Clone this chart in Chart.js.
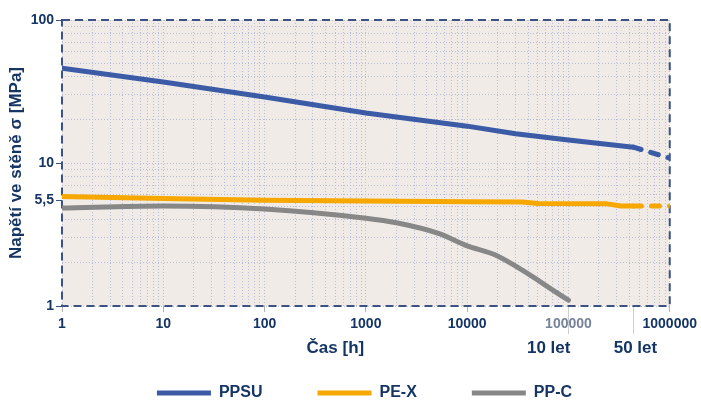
<!DOCTYPE html>
<html>
<head>
<meta charset="utf-8">
<script src="https://cdn.jsdelivr.net/npm/chart.js@4"></script>
<style>
  html, body { margin: 0; padding: 0; background: #fff; }
  #wrap { width: 701px; height: 401px; }
</style>
</head>
<body>
<div id="wrap"><canvas id="chart"></canvas></div>
<script>
// hodnoty (čas v hodinách, napětí v MPa)
const ppsuHours = [1, 10, 100, 1000, 10000, 30000, 100000, 438000, 1000000];
const ppsuStress = [46, 36.8, 28.9, 22.4, 18.1, 16.0, 14.5, 12.9, 10.8];
const pexHours = [1, 10, 100, 1000, 10000, 35000, 50000, 240000, 330000, 438000, 1000000];
const pexStress = [5.83, 5.64, 5.5, 5.43, 5.35, 5.33, 5.2, 5.18, 5.0, 5.0, 5.0];
const ppcHours = [1, 10, 100, 1000, 2000, 5200, 10000, 19000, 100000];
const ppcStress = [4.85, 5.0, 4.77, 4.11, 3.82, 3.22, 2.63, 2.27, 1.1];
const seriesNames = ["PPSU", "PE-X", "PP-C"];
const xTickLabels = [1, 10, 100, 1000, 10000, 100000, 1000000];
const yTickValues = [1, 5.5, 10, 100];
const yTickLabels = ["1", "5,5", "10", "100"];
const milestoneHours = [100000, 438000];
const milestoneLabels = ["10 let", "50 let"];

const NAVY = "#153564";
const FONT = "'Liberation Sans', Arial, sans-serif";
const GRID = "#b7bed6";
const NONE = "rgba(0,0,0,0)";
const dashFrom = milestoneHours[1];

const toPoints = (xs, ys) => xs.map((x, i) => ({ x: x, y: ys[i] }));

const dashedTail = {
    borderDash: c => c.p0.parsed.x >= dashFrom ? [8, 10] : undefined
};

const plotFrame = {
    id: "plotFrame",
    beforeDraw(chart) {
        const { ctx, chartArea: a } = chart;
        ctx.save();
        ctx.fillStyle = "#f0ebe6";
        ctx.fillRect(a.left, a.top, a.right - a.left, a.bottom - a.top);
        ctx.restore();
    },
    beforeDatasetsDraw(chart) {
        const { ctx, chartArea: a } = chart;
        ctx.save();
        ctx.strokeStyle = "#3c5283";
        ctx.lineWidth = 2;
        ctx.setLineDash([8, 5]);
        ctx.strokeRect(a.left, a.top, a.right - a.left, a.bottom - a.top);
        ctx.restore();
    },
    afterDraw(chart) {
        const { ctx, chartArea: a } = chart;
        const x = chart.scales.x;
        ctx.save();
        ctx.strokeStyle = "#cfcfcf";
        ctx.lineWidth = 1;
        milestoneHours.forEach(h => {
            const px = Math.round(x.getPixelForValue(h)) + 0.5;
            ctx.beginPath();
            ctx.moveTo(px, a.bottom + 1);
            ctx.lineTo(px, a.bottom + 28);
            ctx.stroke();
        });
        ctx.fillStyle = NAVY;
        ctx.font = "bold 17px " + FONT;
        ctx.textBaseline = "middle";
        const ty = a.bottom + 42;
        ctx.textAlign = "center";
        ctx.fillText("Čas [h]", x.getPixelForValue(500), ty);
        ctx.textAlign = "right";
        ctx.fillText(milestoneLabels[0], x.getPixelForValue(milestoneHours[0]) + 2, ty);
        ctx.textAlign = "center";
        ctx.fillText(milestoneLabels[1], x.getPixelForValue(milestoneHours[1]) + 2, ty);
        ctx.restore();
    }
};

const ctx = document.getElementById("chart").getContext("2d");

new Chart(ctx, {
    type: "line",
    data: {
        datasets: [{
            label: seriesNames[0],
            data: toPoints(ppsuHours, ppsuStress),
            borderColor: "#3b5ba6",
            segment: dashedTail
        }, {
            label: seriesNames[1],
            data: toPoints(pexHours, pexStress),
            borderColor: "#f7a800",
            segment: dashedTail
        }, {
            label: seriesNames[2],
            data: toPoints(ppcHours, ppcStress),
            borderColor: "#878787",
            cubicInterpolationMode: "monotone"
        }]
    },
    options: {
        responsive: true,
        maintainAspectRatio: false,
        animation: false,
        // levý okraj posouvá legendu pod střed grafu
        layout: { padding: { top: 20, right: 0, bottom: 0, left: 28 } },
        elements: {
            line: { borderWidth: 5, borderCapStyle: "round", borderJoinStyle: "round", fill: false },
            point: { radius: 0, hoverRadius: 0 }
        },
        plugins: {
            tooltip: { enabled: false },
            legend: {
                position: "bottom",
                maxHeight: 71,
                labels: {
                    boxWidth: 54,
                    boxHeight: 5,
                    padding: 55,
                    useBorderRadius: true,
                    borderRadius: 2.5,
                    color: NAVY,
                    font: { family: FONT, size: 16, weight: "bold" },
                    generateLabels: chart => chart.data.datasets.map((ds, i) => ({
                        text: ds.label,
                        fillStyle: ds.borderColor,
                        strokeStyle: ds.borderColor,
                        lineWidth: 0,
                        hidden: false,
                        datasetIndex: i,
                        fontColor: NAVY
                    }))
                }
            }
        },
        scales: {
            x: {
                type: "logarithmic",
                min: 1,
                max: 1000000,
                afterBuildTicks: s => {
                    const t = [];
                    for (let d = 1; d < 1000000; d *= 10) {
                        for (let k = 1; k < 10; k++) t.push({ value: k * d });
                    }
                    t.push({ value: 1000000 });
                    s.ticks = t;
                },
                afterFit: s => { s.height = 24; },
                ticks: {
                    autoSkip: false,
                    maxRotation: 0,
                    padding: 4,
                    font: { family: FONT, size: 14, weight: "bold" },
                    color: c => c.tick && c.tick.value === 100000 ? "#76839a" : NAVY,
                    callback: v => xTickLabels.includes(v) ? String(v) : ""
                },
                grid: {
                    color: GRID,
                    lineWidth: 1,
                    tickLength: 6,
                    tickColor: c => c.tick && xTickLabels.includes(c.tick.value) ? "#b3b3b3" : NONE
                },
                border: { display: false, dash: [1, 2] }
            },
            y: {
                type: "logarithmic",
                min: 1,
                max: 100,
                afterBuildTicks: s => {
                    const t = [];
                    for (let d = 1; d < 100; d *= 10) {
                        for (let k = 1; k < 10; k++) {
                            t.push({ value: k * d });
                            if (k * d === 5) t.push({ value: 5.5 });
                        }
                    }
                    t.push({ value: 100 });
                    s.ticks = t;
                },
                afterFit: s => { s.width = 34; },
                ticks: {
                    autoSkip: false,
                    padding: 2,
                    font: { family: FONT, size: 14, weight: "bold" },
                    color: NAVY,
                    callback: v => {
                        const i = yTickValues.indexOf(v);
                        return i >= 0 ? yTickLabels[i] : "";
                    }
                },
                grid: {
                    color: c => c.tick && c.tick.value === 5.5 ? NONE : GRID,
                    lineWidth: 1,
                    tickLength: 6,
                    tickColor: c => c.tick && yTickValues.includes(c.tick.value) ? "#3c5283" : NONE
                },
                border: { display: false, dash: [1, 2] },
                title: {
                    display: true,
                    text: "Napětí ve stěně σ [MPa]",
                    color: NAVY,
                    font: { family: FONT, size: 17, weight: "bold" },
                    padding: { top: -22, bottom: 0 }
                }
            },
            // prázdná osa vpravo jen drží okraj grafu
            yRight: {
                type: "linear",
                position: "right",
                afterFit: s => { s.width = 29; },
                ticks: { display: false },
                grid: { display: false },
                border: { display: false }
            }
        }
    },
    plugins: [plotFrame]
});
</script>
</body>
</html>
